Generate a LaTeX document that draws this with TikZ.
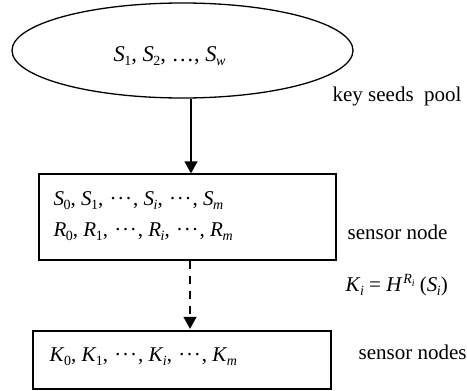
\documentclass[tikz,border=0pt]{standalone}
\usepackage{fontspec}
\setmainfont{Liberation Serif}
\usetikzlibrary{shapes.geometric,arrows.meta}

% subscript / superscript helpers for the key notation
\newcommand\lo[1]{\raisebox{-4.5pt}{\fontsize{14}{14}\selectfont #1}}
\newcommand\hi[1]{\raisebox{8pt}{\fontsize{14}{14}\selectfont #1}}
\newcommand\lolo[1]{\raisebox{-3pt}{\fontsize{10}{10}\selectfont #1}}
\newcommand\vx[2]{\textit{#1}\kern-0.5pt\lo{#2}}
\newcommand\cdts{\kern1pt\textperiodcentered\kern0.8pt\textperiodcentered\kern0.8pt\textperiodcentered\kern1pt}

\begin{document}
\begin{tikzpicture}[x=1pt,y=-1pt,
  line width=1.3pt,
  every node/.style={font=\fontsize{21}{25}\selectfont},
  txt/.style={anchor=base west,inner sep=0pt},
  frame/.style={draw,rectangle,inner sep=0pt},
  arr/.style={-{Triangle[width=13pt,length=12pt]}}]
\useasboundingbox (0,0) rectangle (467,391);

% key seed pool
\node[draw,ellipse,inner sep=0pt,minimum width=341pt,minimum height=95pt] (pool) at (182.5,50.5) {};
\node[txt,font=\fontsize{22.5}{26}\selectfont] (seeds) at (113,61) {\vx{S}{1}, \vx{S}{2}, \dots, \vx{S}{\textit{w}}};
\node[txt] (poollbl) at (332,101) {key seeds\ \ pool};

% single sensor node
\node[frame,minimum width=297pt,minimum height=86pt] (node1) at (187.5,217) {};
\node[txt] (srow) at (53,205) {\vx{S}{0}, \vx{S}{1}, \cdts, \vx{S}{\textit{i}}, \cdts, \vx{S}{\textit{m}}};
\node[txt] (rrow) at (53,236) {\vx{R}{0}, \vx{R}{1}, \cdts, \vx{R}{\textit{i}}, \cdts, \vx{R}{\textit{m}}};
\node[txt] (node1lbl) at (347,239) {sensor node};

% derived keys
\node[txt] (hashlbl) at (345,291) {\vx{K}{\textit{i}} = \textit{H}\kern1pt\hi{\textit{R}\lolo{\textit{i}}} (\vx{S}{\textit{i}})};
\node[frame,minimum width=298pt,minimum height=58pt] (node2) at (182,360) {};
\node[txt] (krow) at (49,361) {\vx{K}{0}, \vx{K}{1}, \cdts, \vx{K}{\textit{i}}, \cdts, \vx{K}{\textit{m}}};
\node[txt] (node2lbl) at (358,359) {sensor nodes};

% connectors
\coordinate (c1) at (191,0);
\coordinate (c2) at (190,0);
\draw[arr] (pool.south -| c1) -- (node1.north -| c1);
\draw[arr,dash pattern=on 8pt off 7pt,shorten >=1.5pt] (node1.south -| c2) -- (node2.north -| c2);
\end{tikzpicture}
\end{document}
